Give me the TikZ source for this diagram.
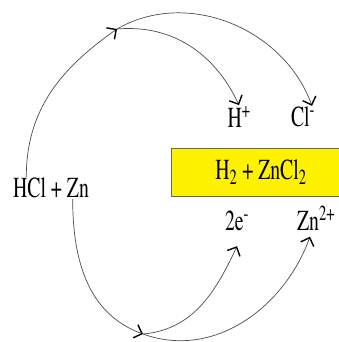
\documentclass[tikz,border=0pt]{standalone}
\usepackage[T1]{fontenc}
\usepackage{mathptmx}
\usetikzlibrary{arrows.meta}

\begin{document}
\begin{tikzpicture}[x=1pt,y=-1pt,
    chem/.style={inner sep=1pt, font=\fontsize{29}{31}\selectfont, xscale=0.68, transform shape},
    curve/.style={draw=black!70, line width=0.7pt},
    barb/.style={curve, -{Straight Barb[length=7pt,width=14pt,line width=1.4pt,color=black]}}]
    \useasboundingbox (0,0) rectangle (339,342);

    % Species
    \node[chem] (hcl) at (51,188) {HCl + Zn};
    \node[chem] (hplus) at (239,117) {H\textsuperscript{+}};
    \node[chem] (clminus) at (303,117) {Cl\textsuperscript{-}};
    \node[chem] (elec) at (237,221) {2e\textsuperscript{-}};
    \node[chem] (zntwo) at (316,218) {Zn\textsuperscript{2+}};
    \node[draw=black!60, fill=yellow, minimum width=180pt, minimum height=48pt] (prod) at (261,172) {};
    \node[chem] at (prod) {H\textsubscript{2} + ZnCl\textsubscript{2}};

    % Branch points
    \coordinate (up) at (117,29);
    \coordinate (down) at (143,334);

    \draw[barb] ([xshift=14pt]hcl.north west) to[out=90, in=215] (up);
    \draw[barb] (up) to[out=5, in=115] (hplus.north);
    \draw[barb] (up) to[out=30, in=110] ([xshift=9pt]clminus.north);

    \draw[barb] ([xshift=-17pt]hcl.south east) to[out=-90, in=160] (down);
    \draw[barb] (down) to[out=5, in=-115] ([yshift=-14pt]elec.south);
    \draw[barb] (down) to[out=-20, in=-110] ([xshift=-6pt,yshift=-5pt]zntwo.south);
\end{tikzpicture}
\end{document}
